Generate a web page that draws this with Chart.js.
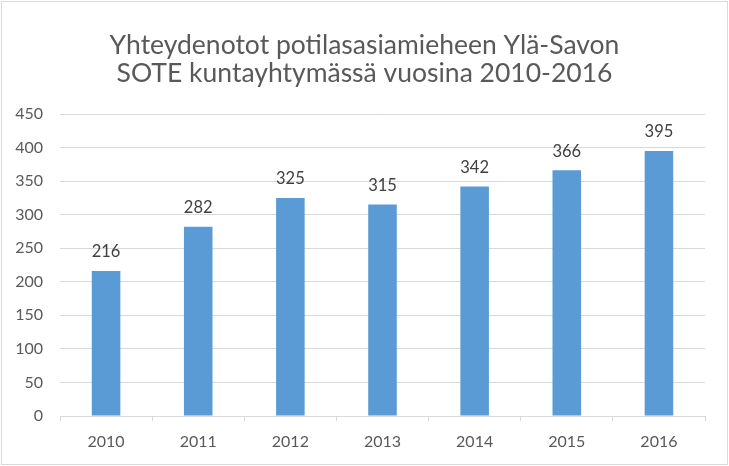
<!DOCTYPE html>
<html><head><meta charset="utf-8">
<script src="https://cdn.jsdelivr.net/npm/chart.js@4"></script>
<style>
html,body{margin:0;padding:0;background:#fff;}
#wrap{position:absolute;left:0;top:0;width:729px;height:466px;}
#frame{position:absolute;left:1px;top:1px;width:725px;height:462px;border:1px solid #d9d9d9;pointer-events:none;}
</style></head>
<body>
<div id="wrap"><canvas id="c" width="729" height="466"></canvas><div id="frame"></div></div>
<script>
const titleLines = ["Yhteydenotot potilasasiamieheen Ylä-Savon", "SOTE kuntayhtymässä vuosina 2010-2016"];
const categories = ["2010", "2011", "2012", "2013", "2014", "2015", "2016"];
const values = [216, 282, 325, 315, 342, 366, 395];
const yTicks = [0, 50, 100, 150, 200, 250, 300, 350, 400, 450];

const FONT = "Lato, 'Open Sans', sans-serif";

const labelPlugin = {
  id: 'barLabels',
  afterDatasetsDraw(chart) {
    const ctx = chart.ctx;
    const meta = chart.getDatasetMeta(0);
    ctx.save();
    ctx.font = "16.5px " + FONT;
    ctx.fillStyle = "#404040";
    ctx.textAlign = "center";
    ctx.textBaseline = "middle";
    meta.data.forEach((bar, i) => {
      ctx.fillText(String(values[i]), bar.x, bar.y - 19);
    });
    ctx.restore();
  }
};

const titlePlugin = {
  id: 'centerTitle',
  afterDraw(chart) {
    const ctx = chart.ctx;
    ctx.save();
    ctx.font = "26.5px " + FONT;
    ctx.fillStyle = "#595959";
    ctx.textAlign = "center";
    ctx.textBaseline = "middle";
    titleLines.forEach((t, i) => ctx.fillText(t, chart.width / 2, 45 + i * 28));
    ctx.restore();
  }
};

new Chart(document.getElementById('c'), {
  type: 'bar',
  data: {
    labels: categories,
    datasets: [{
      data: values,
      backgroundColor: '#5B9BD5',
      borderWidth: 0,
      categoryPercentage: 0.62,
      barPercentage: 0.5
    }]
  },
  options: {
    responsive: false,
    animation: false,
    devicePixelRatio: 1,
    layout: { padding: { left: 0, right: 24, top: 114, bottom: 5 } },
    plugins: {
      legend: { display: false },
      tooltip: { enabled: false },
      title: { display: false }
    },
    scales: {
      x: {
        afterFit(scale) { scale.height = 45; },
        grid: { display: true, drawOnChartArea: false, drawTicks: true, tickLength: 5, color: '#d9d9d9', offset: true },
        border: { display: true, color: '#d9d9d9' },
        ticks: { color: '#595959', font: { family: FONT, size: 16 }, padding: 11, maxRotation: 0 }
      },
      y: {
        min: 0, max: 450,
        afterBuildTicks(scale) { scale.ticks = yTicks.map(v => ({ value: v })); },
        afterFit(scale) { scale.width = 60; },
        grid: { color: '#d9d9d9', drawTicks: false },
        border: { display: false },
        ticks: { color: '#595959', font: { family: FONT, size: 16 }, padding: 17 }
      }
    }
  },
  plugins: [labelPlugin, titlePlugin]
});
</script>
</body></html>
